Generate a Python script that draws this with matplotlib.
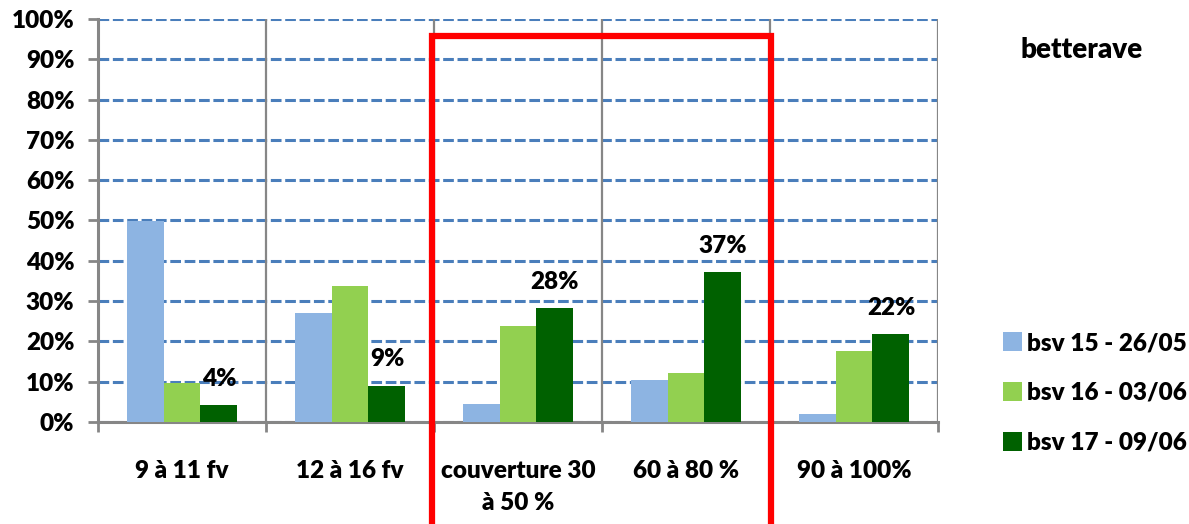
import numpy as np
import matplotlib.pyplot as plt
from matplotlib.patches import Rectangle
from matplotlib.ticker import PercentFormatter

# data (fractions)
categories = ["9 à 11 fv", "12 à 16 fv", "couverture 30\nà 50 %", "60 à 80 %", "90 à 100%"]
bsv15 = [0.50, 0.27, 0.044, 0.104, 0.02]
bsv16 = [0.098, 0.337, 0.237, 0.121, 0.175]
bsv17 = [0.042, 0.09, 0.283, 0.372, 0.218]
labels17 = ["4%", "9%", "28%", "37%", "22%"]
series_names = ["bsv 15 - 26/05", "bsv 16 - 03/06", "bsv 17 - 09/06"]
colors = ["#8DB4E2", "#92D050", "#006100"]

plt.rcParams['font.family'] = ['Lato', 'DejaVu Sans']
plt.rcParams['font.weight'] = 'heavy'
FS = 17.5

W, H = 1189, 524
fig = plt.figure(figsize=(W/100, H/100), dpi=100)
ax = fig.add_axes([98/W, 1-422/H, (938-98)/W, (422-19)/H])

x = np.arange(len(categories))
bw = 0.22
bars = []
for i, (vals, c) in enumerate(zip([bsv15, bsv16, bsv17], colors)):
    b = ax.bar(x + (i-1)*bw, vals, bw, color=c, zorder=3)
    bars.append(b)

# labels on the last series only
for xi, v, t in zip(x, bsv17, labels17):
    ax.annotate(t, (xi + bw, v), xytext=(0, 11), textcoords='offset points',
                ha='center', va='bottom', fontsize=FS, fontweight='heavy')

ax.set_xlim(-0.5, len(categories)-0.5)
ax.set_ylim(0, 1)
ax.yaxis.set_major_locator(plt.MultipleLocator(0.1))
ax.yaxis.set_major_formatter(PercentFormatter(1.0, decimals=0))
ax.grid(axis='y', color='#4A7EBB', linestyle=(0, (3.5, 1.2)), linewidth=2.2, zorder=1)
ax.set_axisbelow(True)

# category separators
for b in np.arange(0.5, len(categories), 1.0):
    ax.axvline(b, color='#868686', linewidth=1.6, zorder=2)

for s in ['top', 'right']:
    ax.spines[s].set_visible(False)
ax.spines['left'].set_color('#868686')
ax.spines['bottom'].set_color('#868686')
ax.spines['left'].set_linewidth(2.2)
ax.spines['bottom'].set_linewidth(2.2)

ax.set_xticks(x)
ax.set_xticklabels(categories, fontsize=FS, fontweight='heavy', linespacing=1.6)
ax.tick_params(axis='x', length=0, pad=27)
ax.set_xticks(np.arange(-0.5, len(categories), 1.0), minor=True)
ax.tick_params(axis='x', which='minor', length=7, width=2, color='#868686', direction='out')
ax.tick_params(axis='y', length=7, width=2, color='#868686', pad=10, labelsize=FS)
for lab in ax.get_yticklabels():
    lab.set_fontweight('heavy')

# legend
leg = fig.legend(bars, series_names, loc='upper left', bbox_to_anchor=(1003/W, 1-332/H),
                 frameon=False, fontsize=FS, labelspacing=1.15, handlelength=0.8,
                 handleheight=0.8, handletextpad=0.2, borderaxespad=0, borderpad=0)
for t in leg.get_texts():
    t.set_fontweight('heavy')

fig.text(1082/W, 1-50/H, "betterave", ha='center', va='center', fontsize=20, fontweight='heavy')

# red highlight frame
fig.patches.append(Rectangle((432/W, -0.1), (771-432)/W, 1.1-36/H, transform=fig.transFigure,
                             fill=False, edgecolor='#FF0000', linewidth=4.5, clip_on=False))

fig.savefig("out.png", dpi=100)
